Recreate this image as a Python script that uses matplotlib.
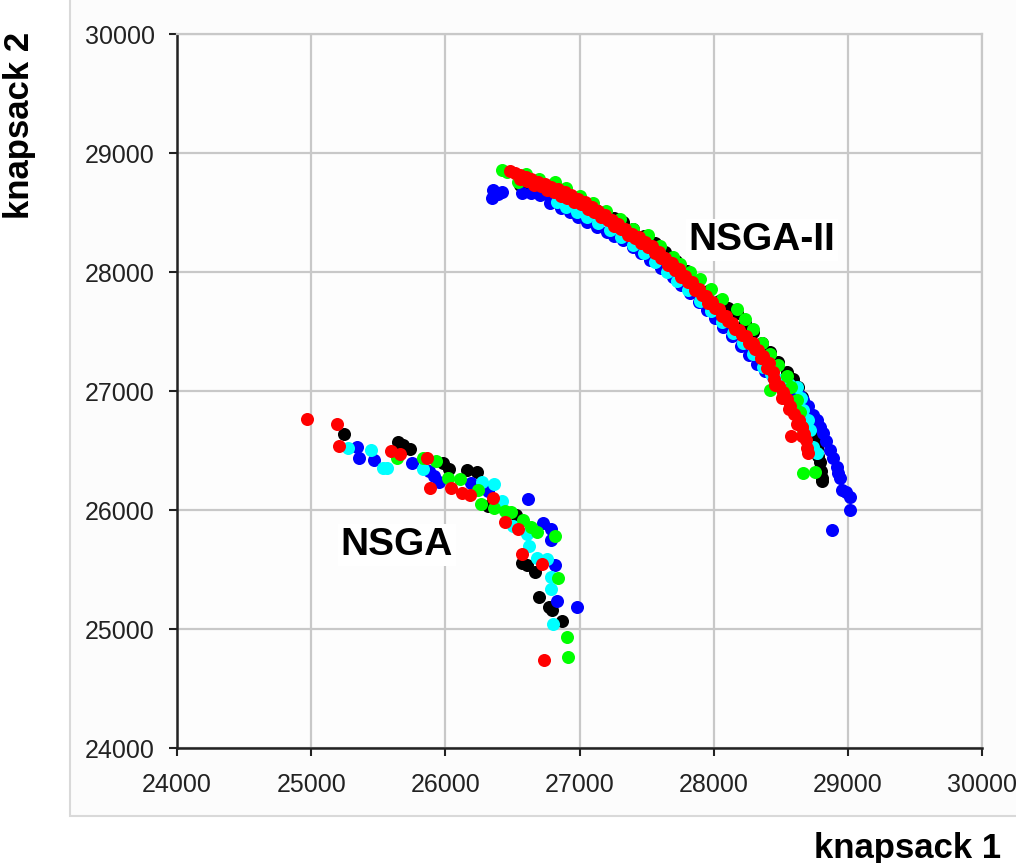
import matplotlib.pyplot as plt
from matplotlib.patches import Rectangle

# ---- NSGA (lower-left front) ----
nsga_red_x = [24970, 25189, 25206, 25594, 25663, 25867, 25889, 26039, 26123, 26185,
              26354, 26441, 26545, 26568, 26722, 26734]
nsga_red_y = [26767, 26722, 26539, 26500, 26467, 26433, 26189, 26183, 26147, 26125,
              26100, 25897, 25842, 25633, 25550, 24739]
nsga_black_x = [25243, 25646, 25683, 25733, 25981, 26031, 26160, 26235, 26317, 26528,
                26570, 26609, 26672, 26697, 26776, 26796, 26868]
nsga_black_y = [26642, 26572, 26550, 26514, 26397, 26342, 26333, 26322, 26036, 25961,
                25556, 25536, 25475, 25269, 25189, 25161, 25069]
nsga_blue_x = [25340, 25355, 25465, 25753, 25877, 25912, 25952, 26193, 26319, 26615,
               26727, 26784, 26784, 26819, 26831, 26980]
nsga_blue_y = [26531, 26433, 26417, 26392, 26328, 26286, 26236, 26231, 26161, 26089,
               25892, 25842, 25750, 25542, 25233, 25189]
nsga_cyan_x = [25273, 25447, 25539, 25566, 25832, 26272, 26366, 26424, 26508, 26610,
               26627, 26682, 26757, 26784, 26791, 26801]
nsga_cyan_y = [26519, 26508, 26350, 26350, 26342, 26239, 26222, 26072, 25869, 25800,
               25694, 25594, 25589, 25439, 25339, 25044]
nsga_green_x = [25641, 25837, 25932, 26019, 26106, 26242, 26267, 26366, 26441, 26491,
                26578, 26635, 26682, 26814, 26843, 26908, 26918]
nsga_green_y = [26439, 26433, 26411, 26267, 26258, 26167, 26050, 26017, 25994, 25986,
                25917, 25856, 25814, 25778, 25428, 24933, 24767]

# ---- NSGA-II (upper-right front) ----
nsga2_black_x = [26560, 26610, 26660, 26730, 26800, 26880, 26960, 27040, 27120, 27200,
                 27260, 27325, 27400, 27480, 27560, 27640, 27720, 27800, 27880, 27960,
                 28040, 28110, 28171, 28230, 28293, 28360, 28420, 28480, 28544, 28590,
                 28628, 28660, 28693, 28720, 28740, 28760, 28770, 28780, 28790, 28800,
                 28805, 28810]
nsga2_black_y = [28730, 28715, 28705, 28690, 28665, 28640, 28600, 28560, 28520, 28475,
                 28450, 28420, 28365, 28305, 28240, 28170, 28090, 28010, 27925, 27840,
                 27760, 27700, 27655, 27575, 27495, 27405, 27325, 27245, 27160, 27100,
                 27036, 26950, 26868, 26780, 26700, 26600, 26520, 26450, 26400, 26330,
                 26270, 26240]
nsga2_blue_x = [26357, 26420, 26345, 26395, 26570, 26640, 26705, 26780, 26780, 26860,
                26929, 26990, 27053, 27130, 27203, 27260, 27326, 27399, 27460, 27525,
                27610, 27697, 27760, 27823, 27890, 27948, 28010, 28072, 28140, 28200,
                28260, 28320, 28380, 28440, 28500, 28544, 28600, 28640, 28668, 28700,
                28740, 28767, 28790, 28815, 28840, 28867, 28890, 28917, 28930, 28941,
                28953, 28990, 29016, 29016, 28879]
nsga2_blue_y = [28689, 28675, 28620, 28655, 28661, 28660, 28647, 28630, 28577, 28540,
                28507, 28465, 28423, 28380, 28339, 28300, 28269, 28213, 28160, 28101,
                28030, 27961, 27890, 27821, 27750, 27681, 27610, 27540, 27460, 27380,
                27300, 27230, 27170, 27120, 27090, 27067, 27000, 26960, 26925, 26870,
                26800, 26757, 26700, 26647, 26580, 26504, 26440, 26364, 26310, 26267,
                26168, 26150, 26112, 26000, 25832]
nsga2_cyan_x = [26830, 26900, 26980, 27053, 27140, 27227, 27310, 27399, 27480, 27560,
                27650, 27730, 27810, 27898, 27980, 28060, 28144, 28220, 28290, 28368,
                28430, 28500, 28560, 28619, 28650, 28668, 28700, 28718, 28743, 28767]
nsga2_cyan_y = [28591, 28550, 28505, 28465, 28410, 28353, 28290, 28225, 28160, 28085,
                28000, 27925, 27845, 27760, 27670, 27580, 27487, 27400, 27310, 27204,
                27140, 27090, 27060, 27036, 26940, 26840, 26760, 26672, 26532, 26477]
nsga2_green_x = [26420, 26460, 26540, 26600, 26700, 26820, 26900, 27000, 27100, 27200,
                 27300, 27400, 27510, 27600, 27700, 27749, 27820, 27898, 27980, 28060,
                 28171, 28230, 28293, 28360, 28420, 28480, 28544, 28580, 28619, 28640,
                 28656, 28666, 28420, 28668, 28755]
nsga2_green_y = [28860, 28840, 28760, 28820, 28782, 28755, 28702, 28642, 28582, 28512,
                 28442, 28362, 28307, 28220, 28125, 28070, 28000, 27940, 27857, 27777,
                 27685, 27605, 27522, 27405, 27312, 27222, 27122, 27032, 26927, 26820,
                 26700, 26640, 27010, 26309, 26322]
nsga2_red_x = [26480, 26520, 26560, 26600, 26640, 26690, 26740, 26790, 26840, 26890,
               26940, 26990, 27040, 27090, 27140, 27190, 27240, 27290, 27340, 27390,
               27440, 27490, 27540, 27590, 27640, 27690, 27740, 27790, 27840, 27890,
               27940, 27990, 28040, 28090, 28140, 28190, 28240, 28290, 28330, 28370,
               28410, 28440, 28450, 28490, 28520, 28545, 28570, 28600, 28635, 28660,
               28675, 28685, 28695, 28700, 28575,
               26560, 26660, 26760, 26860, 26960, 27060, 27160, 27260, 27360, 27460,
               27560, 27660, 27760, 27860, 27960, 28060, 28160, 28260, 28350, 28400,
               28460, 28510, 28560, 28620, 28660,
               26610, 26710, 26810, 26910, 27010, 27110, 27210, 27310, 27410, 27510,
               27610, 27710, 27810, 27910, 28010, 28110, 28210, 28305]
nsga2_red_y = [28850, 28830, 28815, 28800, 28780, 28760, 28740, 28715, 28695, 28670,
               28645, 28615, 28585, 28550, 28515, 28480, 28440, 28400, 28360, 28320,
               28290, 28255, 28215, 28170, 28120, 28075, 28025, 27970, 27915, 27860,
               27800, 27745, 27690, 27630, 27575, 27515, 27460, 27400, 27345, 27290,
               27235, 27160, 27100, 27040, 26990, 26930, 26870, 26810, 26760, 26700,
               26640, 26590, 26520, 26480, 26620,
               28780, 28730, 28690, 28640, 28590, 28530, 28460, 28390, 28310, 28240,
               28160, 28060, 27960, 27850, 27740, 27630, 27520, 27400, 27280, 27190,
               27050, 26940, 26850, 26720, 26620,
               28765, 28720, 28675, 28625, 28570, 28505, 28435, 28360, 28285, 28210,
               28120, 28020, 27915, 27805, 27695, 27585, 27470, 27350]

ticks = [24000, 25000, 26000, 27000, 28000, 29000, 30000]

plt.rcParams['font.family'] = ['Liberation Sans', 'DejaVu Sans']

fig = plt.figure(figsize=(10.16, 8.63), dpi=100)
fig.patch.set_facecolor('white')
# chart-area frame, kept behind the axes
frame = Rectangle((70 / 1016, 1 - 816 / 863), 1.2, 1.2, transform=fig.transFigure,
                  facecolor='#fcfcfc', edgecolor='#d9d9d9', linewidth=1.5, zorder=-10)
fig.add_artist(frame)

ax = fig.add_axes([177 / 1016, 1 - 748 / 863, 805 / 1016, 714 / 863])
ax.set_facecolor('#fdfdfd')

s = 88
groups = [
    (nsga_black_x, nsga_black_y, nsga2_black_x, nsga2_black_y, '#000000'),
    (nsga_blue_x, nsga_blue_y, nsga2_blue_x, nsga2_blue_y, '#0000ff'),
    (nsga_cyan_x, nsga_cyan_y, nsga2_cyan_x, nsga2_cyan_y, '#00ffff'),
    (nsga_green_x, nsga_green_y, nsga2_green_x, nsga2_green_y, '#00ff00'),
    (nsga_red_x, nsga_red_y, nsga2_red_x, nsga2_red_y, '#ff0000'),
]
for x1, y1, x2, y2, c in groups:
    ax.scatter(x1, y1, s=s, color=c, linewidths=0, zorder=3)
    ax.scatter(x2, y2, s=s, color=c, linewidths=0, zorder=3)

ax.set_xlim(24000, 30000)
ax.set_ylim(24000, 30000)
ax.set_xticks(ticks)
ax.set_yticks(ticks)
ax.grid(True, color='#c8c8c8', linewidth=1.6, zorder=0)
ax.set_axisbelow(True)
for side in ['top', 'right']:
    ax.spines[side].set_color('#c8c8c8')
    ax.spines[side].set_linewidth(1.6)
for side in ['left', 'bottom']:
    ax.spines[side].set_color('#222222')
    ax.spines[side].set_linewidth(1.8)
ax.tick_params(axis='both', direction='out', length=6, width=1.5, color='#222222',
               labelsize=18, labelcolor='#222222')
ax.tick_params(axis='x', pad=12)
ax.tick_params(axis='y', pad=10)

ax.text(28360, 28269, 'NSGA-II', fontsize=28, fontweight='bold', ha='center', va='center',
        zorder=5, bbox=dict(facecolor='white', edgecolor='none', pad=2))
ax.text(25640, 25706, 'NSGA', fontsize=28, fontweight='bold', ha='center', va='center',
        zorder=5, bbox=dict(facecolor='white', edgecolor='none', pad=2))

fig.text(20 / 1016, 1 - 125 / 863, 'knapsack 2', rotation=90, fontsize=25, fontweight='bold',
         ha='center', va='center')
fig.text(908 / 1016, (863 - 858) / 863, 'knapsack 1', fontsize=25, fontweight='bold',
         ha='center', va='baseline')

plt.savefig('out.png', dpi=100)
